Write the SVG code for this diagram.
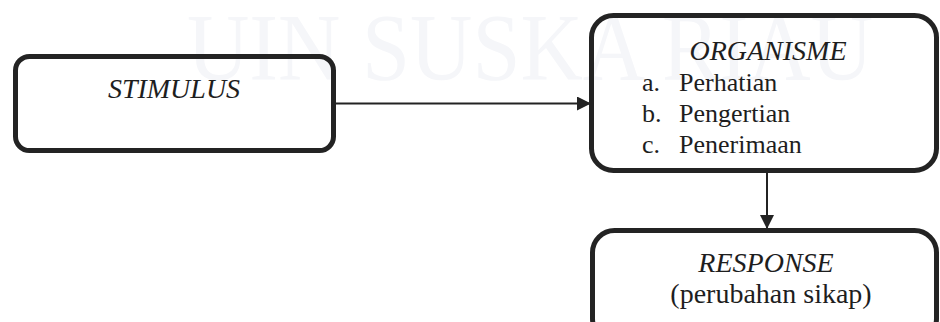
<svg xmlns="http://www.w3.org/2000/svg" width="940" height="322" viewBox="0 0 940 322">
<style>
.box{fill:none;stroke:#232323;stroke-width:5}
.conn{stroke:#232323;stroke-width:2;fill:none}
.lbl{font-family:'Liberation Serif','Times New Roman',serif;fill:#1e1e1e}
.ti{font-style:italic;font-size:28px;text-anchor:middle}
.li{font-size:26px}
.wm{font-family:'Liberation Serif','Times New Roman',serif;font-size:96px;fill:#f5f6f9}
</style>
<defs>
<marker id="ah" markerUnits="userSpaceOnUse" markerWidth="14" markerHeight="14" refX="13" refY="7" orient="auto">
<path d="M0,0 L14,7 L0,14 Z" fill="#232323"/>
</marker>
</defs>
<rect width="940" height="322" fill="#ffffff"/>
<text class="wm" x="187" y="80" textLength="686" lengthAdjust="spacingAndGlyphs">UIN SUSKA RIAU</text>
<g id="connectors">
<line class="conn" x1="336" y1="103.5" x2="590" y2="103.5" marker-end="url(#ah)"/>
<line class="conn" x1="767" y1="173" x2="767" y2="228" marker-end="url(#ah)"/>
</g>
<g id="stimulus" font-family="Liberation Serif, Times New Roman, serif">
<rect class="box" x="15.5" y="56.5" width="318" height="94" rx="14"/>
<text class="lbl ti" x="174" y="98">STIMULUS</text>
</g>
<g id="organisme" font-family="Liberation Serif, Times New Roman, serif">
<rect class="box" x="591.5" y="15.5" width="345" height="155" rx="22"/>
<text class="lbl ti" x="768" y="60">ORGANISME</text>
<text class="lbl li" x="642" y="91">a.</text>
<text class="lbl li" x="679" y="91">Perhatian</text>
<text class="lbl li" x="642" y="122">b.</text>
<text class="lbl li" x="679" y="122">Pengertian</text>
<text class="lbl li" x="642" y="153">c.</text>
<text class="lbl li" x="679" y="153">Penerimaan</text>
</g>
<g id="response" font-family="Liberation Serif, Times New Roman, serif">
<rect class="box" x="592.5" y="230.5" width="344" height="110" rx="22"/>
<text class="lbl ti" x="766" y="272">RESPONSE</text>
<text class="lbl" x="771" y="303" font-size="28" text-anchor="middle">(perubahan sikap)</text>
</g>
</svg>
